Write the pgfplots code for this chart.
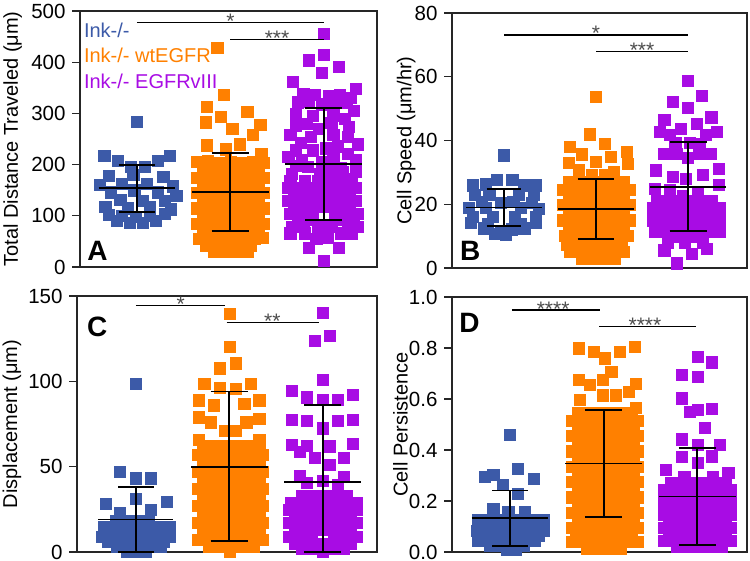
\documentclass[border=0pt]{standalone}
\usepackage{fontspec}
\setmainfont{Liberation Sans}
\usepackage{pgfplots}
\pgfplotsset{compat=1.18}
\definecolor{cblue}{RGB}{60,90,168}
\definecolor{corange}{RGB}{255,128,0}
\definecolor{cpurple}{RGB}{168,12,228}
\pgfplotsset{
 panel/.style={scale only axis, anchor=south west, clip=false, clip mode=individual,
   axis line style={line width=1.3pt, black!85},
   xtick=\empty, ytick pos=left, tick align=outside,
   major tick length=8pt, tick style={line width=1.3pt, black!85},
   yticklabel style={font=\fontsize{20.5}{20.5}\selectfont, xshift=-3pt, inner ysep=0pt, /pgf/number format/assume math mode=true},
   ylabel style={font=\fontsize{20}{24}\selectfont, anchor=center},
 },
 sq/.style={only marks, mark=square*, mark size=5.6pt, color=#1, mark options={line width=0.4pt}, forget plot},
 ebar/.style={black, line width=1.8pt, unbounded coords=jump, forget plot, mark=none},
 sig/.style={black, line width=1.1pt, forget plot, mark=none},
}
\newcommand{\sigstar}[3]{\node[font=\fontsize{21}{21}\selectfont, text=black!70, anchor=base, yshift=-6pt, inner sep=0pt] at (axis cs:#1,#2) {#3};}
\newcommand{\plabel}[3]{\node[anchor=base west, inner sep=0pt, font=\bfseries\fontsize{28}{28}\selectfont] at (axis description cs:#1,#2) {#3};}
\begin{document}
\begin{tikzpicture}
\useasboundingbox (0,0) rectangle (750pt,-561pt);
% ---------------- Panel A
\begin{axis}[panel, at={(80pt,-267pt)}, width=297pt, height=256pt,
  xmin=0.39, xmax=3.57, ymin=0, ymax=500, ytick={0,100,200,300,400,500},
  ylabel={Total Distance Traveled (μm)}, ylabel style={at={(axis description cs:-0.227,0.5)}}]
\addplot[sq=cblue] coordinates {(1,284) (0.65,217) (1.35,217) (0.79,207) (1.22,208) (0.93,196) (1.08,196) (0.70,178) (0.96,180) (1.28,176) (0.60,160) (0.84,163) (1.10,162) (1.38,158) (0.72,146) (0.97,150) (1.22,146) (1.42,140) (0.82,132) (1.06,130) (1.30,130) (0.66,117) (0.90,115) (1.14,118) (1.36,113) (0.70,102) (0.84,100) (0.99,98) (1.14,100) (1.30,104) (0.78,90) (0.92,86) (1.06,86) (1.20,90)};
\addplot[sq=corange] coordinates {(1.86,428) (1.93,336) (1.75,313) (2.18,303) (1.90,293) (1.74,283) (2.32,278) (2.02,270) (2.24,258) (1.75,238) (2.10,240) (1.95,230) (2.33,222)
(1.64,205) (1.76,207) (1.88,204) (2.00,206) (2.12,203) (2.24,206) (2.36,204)
(1.70,190) (1.82,191) (1.94,189) (2.06,190) (2.18,191) (2.30,189)
(1.64,175) (1.76,175) (1.88,175) (2.00,175) (2.12,175) (2.24,175) (2.36,175)
(1.70,160) (1.82,160) (1.94,160) (2.06,160) (2.18,160) (2.30,160)
(1.64,145) (1.76,145) (1.88,145) (2.00,145) (2.12,145) (2.24,145) (2.36,145)
(1.70,130) (1.82,130) (1.94,130) (2.06,130) (2.18,130) (2.30,130)
(1.64,115) (1.76,115) (1.88,115) (2.00,115) (2.12,115) (2.24,115) (2.36,115)
(1.70,100) (1.82,100) (1.94,100) (2.06,100) (2.18,100) (2.30,100)
(1.64,85) (1.76,85) (1.88,85) (2.00,85) (2.12,85) (2.24,85) (2.36,85)
(1.70,70) (1.82,70) (1.94,70) (2.06,70) (2.18,70) (2.30,70)
(1.66,55) (1.78,55) (1.90,55) (2.02,55) (2.14,55) (2.26,55) (2.34,57)
(1.74,42) (1.86,42) (1.98,42) (2.10,42) (2.22,42)
(1.82,30) (1.94,30) (2.06,30) (2.18,30)};
\addplot[sq=cpurple] coordinates {(3.0,455) (3.0,414) (2.84,404) (3.16,391) (2.98,379) (2.67,362) (3.34,349)
(2.78,338) (2.90,336) (3.05,334) (3.17,336) (3.29,330) (2.72,322) (2.84,324) (3.24,322) (2.98,318) (3.10,320)
(2.88,295) (3.10,296) (3.22,290) (2.70,300) (3.32,305) (2.70,277) (2.82,280) (3.27,274) (2.95,270) (3.08,282)
(3.26,254) (3.10,258) (2.64,258) (2.86,255) (3.36,240) (2.75,243) (3.15,236) (2.88,228) (3.02,232) (2.70,228) (3.26,222)
(2.62,216) (2.76,210) (3.34,209) (2.98,205) (3.10,214) (2.83,196) (3.05,195) (3.18,193) (2.70,198)
(2.66,183) (3.20,186) (2.96,183) (3.30,172) (2.80,168) (3.08,170) (2.64,168) (2.94,168) (3.20,166) (3.34,186)
(2.62,155) (2.74,155) (2.86,155) (2.98,155) (3.10,155) (3.22,155) (3.34,155)
(2.68,142) (2.80,142) (2.92,142) (3.04,142) (3.16,142) (3.28,142)
(2.62,130) (2.74,130) (2.86,130) (2.98,130) (3.10,130) (3.22,130) (3.34,130)
(2.68,117) (2.80,117) (2.92,117) (3.04,117) (3.16,117) (3.28,117)
(2.64,104) (2.76,104) (2.88,104) (3.12,104) (3.24,104) (3.36,104)
(2.72,92) (2.85,92) (3.20,92) (3.32,92)
(2.66,78) (2.78,78) (2.94,78) (3.08,78) (3.26,78) (3.36,78)
(2.64,66) (2.80,66) (2.96,66) (3.18,66) (3.30,66)
(2.92,56) (3.04,58) (2.84,37) (3.16,37) (3.0,12)};
\addplot[ebar] coordinates {(0.59,154) (1.41,154) (1,nan) (1,107) (1,199) (1,nan) (0.81,199) (1.19,199) (1,nan) (0.81,107) (1.19,107)};
\addplot[ebar] coordinates {(1.59,146) (2.41,146) (2,nan) (2,71) (2,222) (2,nan) (1.80,222) (2.20,222) (2,nan) (1.80,71) (2.20,71)};
\addplot[ebar] coordinates {(2.59,201) (3.41,201) (3,nan) (3,92) (3,310) (3,nan) (2.80,310) (3.20,310) (3,nan) (2.80,92) (3.20,92)};
\addplot[sig] coordinates {(1,477) (3,477)};
\addplot[sig] coordinates {(2,445) (3,445)};
\sigstar{2}{477}{*}
\sigstar{2.5}{445}{***}
\node[anchor=base west, inner sep=0pt, text=cblue, font=\fontsize{20}{20}\selectfont] at (axis description cs:0.013,0.898) {Ink-/-};
\node[anchor=base west, inner sep=0pt, text=corange, font=\fontsize{20}{20}\selectfont] at (axis description cs:0.013,0.797) {Ink-/- wtEGFR};
\node[anchor=base west, inner sep=0pt, text=cpurple, font=\fontsize{20}{20}\selectfont] at (axis description cs:0.013,0.699) {Ink-/- EGFRvIII};
\plabel{0.024}{0.027}{A}
\end{axis}
% ---------------- Panel B
\begin{axis}[panel, at={(452pt,-268pt)}, width=295pt, height=255pt,
  xmin=0.435, xmax=3.64, ymin=0, ymax=80, ytick={0,20,40,60,80},
  ylabel={Cell Speed (μm/hr)}, ylabel style={at={(axis description cs:-0.155,0.5)}}]
\addplot[sq=cblue] coordinates {(1.0,35.4) (0.92,27.6) (1.09,27.6) (0.66,26) (0.80,26.3) (1.22,26) (1.34,26)
(0.68,23) (0.84,22.9) (1.16,22.9) (1.32,22.9) (0.76,20.8) (0.96,20.5) (1.10,20.8) (1.30,20.6)
(0.62,18.8) (0.80,18.8) (1.18,18.8) (1.38,18.6) (0.66,16.1) (0.88,16.2) (1.12,16.0) (1.34,16.0)
(0.64,14.2) (0.82,14.0) (1.34,14.2) (1.18,14) (0.78,12.5) (0.96,11.8) (1.08,12.2) (1.22,12.5) (0.90,10.8) (1.02,10.6)};
\addplot[sq=corange] coordinates {(2.0,53.7) (1.93,42.0) (2.09,39.1) (1.71,38.1) (2.33,36.5) (1.84,35.7) (2.16,34.9) (2.0,33.4) (1.70,33.0) (2.34,32.8) (1.81,30.9) (2.19,30.2) (1.95,29.2) (2.09,29.2)
(1.70,27) (1.82,27) (1.94,27) (2.06,27) (2.18,27) (2.30,27)
(1.64,24.6) (1.76,24.6) (1.88,24.6) (2.00,24.6) (2.12,24.6) (2.24,24.6) (2.36,24.6)
(1.70,22.2) (1.82,22.2) (1.94,22.2) (2.06,22.2) (2.18,22.2) (2.30,22.2)
(1.64,19.8) (1.76,19.8) (1.88,19.8) (2.00,19.8) (2.12,19.8) (2.24,19.8) (2.36,19.8)
(1.70,17.4) (1.82,17.4) (1.94,17.4) (2.06,17.4) (2.18,17.4) (2.30,17.4)
(1.64,15) (1.76,15) (1.88,15) (2.00,15) (2.12,15) (2.24,15) (2.36,15)
(1.70,12.6) (1.82,12.6) (1.94,12.6) (2.06,12.6) (2.18,12.6) (2.30,12.6)
(1.66,10.2) (1.78,10.2) (1.90,10.2) (2.02,10.2) (2.14,10.2) (2.26,10.2) (2.34,10.2)
(1.68,7.4) (1.80,7.4) (1.92,7.4) (2.04,7.4) (2.16,7.4) (2.28,7.4)
(1.72,5) (1.84,5) (1.96,5) (2.08,5) (2.20,5) (2.30,5)
(1.84,3) (1.96,3) (2.08,3) (2.20,3)};
\addplot[sq=cpurple] coordinates {(3.0,58.8) (2.83,52.2) (3.15,54.1) (3.0,50.4) (2.74,46.6) (3.25,47.3) (3.09,45.3) (2.92,43.8) (2.69,42.8) (3.31,42.8) (2.80,41.8) (3.19,41.8)
(2.86,39.2) (3.02,39.2) (3.12,39.0) (2.74,35.9) (2.88,35.9) (3.12,36.0) (3.24,35.9) (3.00,34.5)
(2.65,30.7) (3.33,31.2) (2.83,28.6) (3.16,29.2) (2.97,28.1) (2.64,24.9) (3.33,26.1) (2.80,24.4) (3.10,24.0) (2.94,22.5)
(2.66,21) (2.78,21) (2.90,21) (3.02,21) (3.14,21) (3.26,21)
(2.62,19) (2.74,19) (2.86,19) (2.98,19) (3.10,19) (3.22,19) (3.34,19)
(2.66,17) (2.78,17) (2.90,17) (3.02,17) (3.14,17) (3.26,17)
(2.62,15) (2.74,15) (2.86,15) (2.98,15) (3.10,15) (3.22,15) (3.34,15)
(2.70,13) (2.82,13) (2.94,13) (3.06,13) (3.18,13) (3.30,13)
(2.64,11.4) (2.76,11.4) (3.22,11.4) (3.34,11.4) (2.88,10) (3.00,10) (3.12,10)
(2.78,8) (2.96,8) (3.16,8) (2.74,5.6) (3.20,6) (3.04,4.6) (2.88,1.5)};
\addplot[ebar] coordinates {(0.59,19) (1.41,19) (1,nan) (1,13.3) (1,24.8) (1,nan) (0.81,24.8) (1.19,24.8) (1,nan) (0.81,13.3) (1.19,13.3)};
\addplot[ebar] coordinates {(1.59,18.5) (2.41,18.5) (2,nan) (2,9) (2,27.8) (2,nan) (1.80,27.8) (2.20,27.8) (2,nan) (1.80,9) (2.20,9)};
\addplot[ebar] coordinates {(2.59,25.5) (3.41,25.5) (3,nan) (3,11.6) (3,39.6) (3,nan) (2.80,39.6) (3.20,39.6) (3,nan) (2.80,11.6) (3.20,11.6)};
\addplot[sig] coordinates {(1,73.1) (3,73.1)};
\addplot[sig] coordinates {(2,67.9) (3,67.9)};
\sigstar{2}{73.1}{*}
\sigstar{2.5}{67.9}{***}
\plabel{0.027}{0.031}{B}
\end{axis}
% ---------------- Panel C
\begin{axis}[panel, at={(77pt,-552pt)}, width=300pt, height=256pt,
  xmin=0.37, xmax=3.58, ymin=0, ymax=150, ytick={0,50,100,150},
  ylabel={Displacement (μm)}, ylabel style={at={(axis description cs:-0.217,0.5)}}]
\addplot[sq=cblue] coordinates {(1.0,98.8) (0.83,47.1) (1.0,43.3) (1.16,43.3) (0.68,28.5) (1.0,31.2) (1.33,29.5) (1.16,25.0) (0.83,22.9)
(0.78,18) (0.90,18) (1.02,18) (1.14,18)
(0.66,15) (0.78,15) (0.90,15) (1.02,15) (1.14,15) (1.26,15) (1.36,15)
(0.70,12) (0.82,12) (0.94,12) (1.06,12) (1.18,12) (1.30,12)
(0.64,9) (0.76,9) (0.88,9) (1.00,9) (1.12,9) (1.24,9) (1.36,9)
(0.70,6) (0.82,6) (0.94,6) (1.06,6) (1.18,6) (1.30,6)
(0.80,3) (0.92,3) (1.04,3) (1.16,3) (1.26,3) (0.90,0.5) (1.00,0.5) (1.10,0.5)};
\addplot[sq=corange] coordinates {(2.0,139.5) (2.0,120.3) (2.07,110.6) (1.90,107.7) (1.73,98.5) (1.90,96.5) (2.23,98.5) (2.07,95.5)
(1.67,89) (2.32,89) (1.83,86) (2.16,87) (1.67,79) (2.32,78) (1.80,76) (2.18,76) (1.95,71) (2.07,71) (1.67,66) (2.32,66)
(1.72,62) (1.84,62) (1.96,62) (2.08,62) (2.20,62) (2.32,62)
(1.66,57) (1.78,57) (1.90,57) (2.02,57) (2.14,57) (2.26,57) (2.36,57)
(1.72,52) (1.84,52) (1.96,52) (2.08,52) (2.20,52) (2.32,52)
(1.66,47) (1.78,47) (1.90,47) (2.02,47) (2.14,47) (2.26,47) (2.36,47)
(1.72,42) (1.84,42) (1.96,42) (2.08,42) (2.20,42) (2.32,42)
(1.66,37) (1.78,37) (1.90,37) (2.02,37) (2.14,37) (2.26,37) (2.36,37)
(1.72,32) (1.84,32) (1.96,32) (2.08,32) (2.20,32) (2.32,32)
(1.66,27) (1.78,27) (1.90,27) (2.02,27) (2.14,27) (2.26,27) (2.36,27)
(1.72,22) (1.84,22) (1.96,22) (2.08,22) (2.20,22) (2.32,22)
(1.66,17) (1.78,17) (1.90,17) (2.02,17) (2.14,17) (2.26,17) (2.36,17)
(1.72,12) (1.84,12) (1.96,12) (2.08,12) (2.20,12) (2.32,12)
(1.66,7) (1.78,7) (1.90,7) (2.02,7) (2.14,7) (2.26,7) (2.36,7)
(1.78,3) (1.90,3) (2.02,3) (2.14,3) (2.26,3) (2.0,0.5)};
\addplot[sq=cpurple] coordinates {(3.0,140.2) (2.91,123.9) (3.07,126.6) (3.0,100.8) (2.67,94.6) (3.32,92.0) (2.83,90.7) (3.0,89.2) (3.16,89.2)
(2.67,77.3) (2.83,76.8) (3.16,76.8) (3.32,77.5) (3.0,72.5) (2.67,63) (2.83,62.5) (3.07,62) (3.32,63.5)
(2.75,58.8) (2.91,55.1) (3.22,55.4) (3.07,51.0) (2.75,44.7) (3.22,44) (2.83,40.5) (3.0,42) (3.16,39.5)
(2.78,33) (2.90,33) (3.02,33) (3.14,33) (3.26,33)
(2.66,29) (2.78,29) (2.90,29) (3.02,29) (3.14,29) (3.26,29) (3.36,29)
(2.64,25) (2.76,25) (2.88,25) (3.00,25) (3.12,25) (3.24,25) (3.36,25)
(2.70,21) (2.82,21) (2.94,21) (3.06,21) (3.18,21) (3.30,21)
(2.64,17) (2.76,17) (2.88,17) (3.00,17) (3.12,17) (3.24,17) (3.36,17)
(2.70,13) (2.82,13) (2.94,13) (3.06,13) (3.18,13) (3.30,13)
(2.64,9) (2.76,9) (2.88,9) (3.12,9) (3.24,9) (3.36,9)
(2.70,5) (2.82,5) (2.94,5) (3.06,5) (3.18,5) (3.30,5)
(2.78,2) (2.90,2) (3.10,2) (3.22,2) (3.0,0.5)};
\addplot[ebar] coordinates {(0.60,19) (1.40,19) (1,nan) (1,0) (1,38.3) (1,nan) (0.81,38.3) (1.19,38.3) (1,nan) (0.81,0) (1.19,0)};
\addplot[ebar] coordinates {(1.59,50) (2.41,50) (2,nan) (2,6.4) (2,94) (2,nan) (1.80,94) (2.20,94) (2,nan) (1.80,6.4) (2.20,6.4)};
\addplot[ebar] coordinates {(2.59,41) (3.41,41) (3,nan) (3,0) (3,86) (3,nan) (2.80,86) (3.20,86) (3,nan) (2.80,0) (3.20,0)};
\addplot[sig] coordinates {(1,144.3) (1.95,144.3)};
\addplot[sig] coordinates {(1.97,134.6) (2.96,134.6)};
\sigstar{1.48}{144.3}{*}
\sigstar{2.46}{134.6}{**}
\plabel{0.033}{0.84}{C}
\end{axis}
% ---------------- Panel D
\begin{axis}[panel, at={(452pt,-552pt)}, width=295pt, height=255pt,
  xmin=0.38, xmax=3.53, ymin=0, ymax=1, ytick={0,0.2,0.4,0.6,0.8,1.0},
  yticklabel style={/pgf/number format/.cd, fixed, fixed zerofill, precision=1},
  ylabel={Cell Persistence}, ylabel style={at={(axis description cs:-0.175,0.5)}}]
\addplot[sq=cblue] coordinates {(1.0,0.461) (1.08,0.328) (0.73,0.294) (0.82,0.302) (1.25,0.289) (0.92,0.263) (1.08,0.230) (0.82,0.171) (0.98,0.158) (1.16,0.158)
(0.66,0.125) (0.78,0.125) (0.90,0.125) (1.02,0.125) (1.14,0.125) (1.26,0.125) (1.36,0.125)
(0.70,0.105) (0.82,0.105) (0.94,0.105) (1.06,0.105) (1.18,0.105) (1.30,0.105)
(0.64,0.085) (0.76,0.085) (0.88,0.085) (1.00,0.085) (1.12,0.085) (1.24,0.085) (1.36,0.085)
(0.70,0.065) (0.82,0.065) (0.94,0.065) (1.06,0.065) (1.18,0.065) (1.30,0.065)
(0.66,0.045) (0.78,0.045) (0.90,0.045) (1.02,0.045) (1.14,0.045) (1.26,0.045)
(0.78,0.025) (0.90,0.025) (1.02,0.025) (1.14,0.025) (0.96,0.008) (1.06,0.008)};
\addplot[sq=corange] coordinates {(1.73,0.799) (1.89,0.786) (2.01,0.76) (2.17,0.786) (2.33,0.805) (2.08,0.707) (1.73,0.675) (1.85,0.655) (1.99,0.675) (2.34,0.66) (1.99,0.615) (2.13,0.615) (2.27,0.628) (1.74,0.597) (2.34,0.565)
(1.72,0.545) (1.84,0.545) (1.96,0.545) (2.08,0.545) (2.20,0.545) (2.30,0.545)
(1.66,0.515) (1.78,0.515) (1.90,0.515) (2.02,0.515) (2.14,0.515) (2.26,0.515) (2.36,0.515)
(1.72,0.485) (1.84,0.485) (1.96,0.485) (2.08,0.485) (2.20,0.485) (2.32,0.485)
(1.66,0.455) (1.78,0.455) (1.90,0.455) (2.02,0.455) (2.14,0.455) (2.26,0.455) (2.36,0.455)
(1.72,0.425) (1.84,0.425) (1.96,0.425) (2.08,0.425) (2.20,0.425) (2.32,0.425)
(1.66,0.395) (1.78,0.395) (1.90,0.395) (2.02,0.395) (2.14,0.395) (2.26,0.395) (2.36,0.395)
(1.72,0.365) (1.84,0.365) (1.96,0.365) (2.08,0.365) (2.20,0.365) (2.32,0.365)
(1.66,0.335) (1.78,0.335) (1.90,0.335) (2.02,0.335) (2.14,0.335) (2.26,0.335) (2.36,0.335)
(1.72,0.305) (1.84,0.305) (1.96,0.305) (2.08,0.305) (2.20,0.305) (2.32,0.305)
(1.66,0.275) (1.78,0.275) (1.90,0.275) (2.02,0.275) (2.14,0.275) (2.26,0.275) (2.36,0.275)
(1.72,0.245) (1.84,0.245) (1.96,0.245) (2.08,0.245) (2.20,0.245) (2.32,0.245)
(1.66,0.215) (1.78,0.215) (1.90,0.215) (2.02,0.215) (2.14,0.215) (2.26,0.215) (2.36,0.215)
(1.72,0.185) (1.84,0.185) (1.96,0.185) (2.08,0.185) (2.20,0.185) (2.32,0.185)
(1.66,0.155) (1.78,0.155) (1.90,0.155) (2.02,0.155) (2.14,0.155) (2.26,0.155) (2.36,0.155)
(1.72,0.125) (1.84,0.125) (1.96,0.125) (2.08,0.125) (2.20,0.125) (2.32,0.125)
(1.66,0.095) (1.78,0.095) (1.90,0.095) (2.02,0.095) (2.14,0.095) (2.26,0.095) (2.36,0.095)
(1.70,0.065) (1.82,0.065) (1.94,0.065) (2.06,0.065) (2.18,0.065) (2.30,0.065)
(1.66,0.040) (1.78,0.040) (1.90,0.040) (2.02,0.040) (2.14,0.040) (2.26,0.040) (2.36,0.040)
(1.82,0.015) (1.94,0.015) (2.06,0.015) (2.18,0.015)};
\addplot[sq=cpurple] coordinates {(3.0,0.766) (3.15,0.744) (2.83,0.694) (3.0,0.687) (2.83,0.603) (2.92,0.55) (3.0,0.557) (3.15,0.561) (3.08,0.489) (2.83,0.442) (3.0,0.42) (3.24,0.42) (2.83,0.374) (3.15,0.376) (3.0,0.35) (2.66,0.322) (3.33,0.311) (2.86,0.295) (3.16,0.295)
(2.72,0.270) (2.84,0.270) (2.96,0.270) (3.08,0.270) (3.20,0.270) (3.30,0.270)
(2.64,0.245) (2.76,0.245) (2.88,0.245) (3.00,0.245) (3.12,0.245) (3.24,0.245) (3.36,0.245)
(2.70,0.220) (2.82,0.220) (2.94,0.220) (3.06,0.220) (3.18,0.220) (3.30,0.220)
(2.64,0.195) (2.76,0.195) (2.88,0.195) (3.00,0.195) (3.12,0.195) (3.24,0.195) (3.36,0.195)
(2.70,0.170) (2.82,0.170) (2.94,0.170) (3.06,0.170) (3.18,0.170) (3.30,0.170)
(2.64,0.145) (2.76,0.145) (2.88,0.145) (3.00,0.145) (3.12,0.145) (3.24,0.145) (3.36,0.145)
(2.70,0.120) (2.82,0.120) (2.94,0.120) (3.06,0.120) (3.18,0.120) (3.30,0.120)
(2.64,0.095) (2.76,0.095) (2.88,0.095) (3.12,0.095) (3.24,0.095) (3.36,0.095)
(2.70,0.070) (2.82,0.070) (2.94,0.070) (3.06,0.070) (3.18,0.070) (3.30,0.070)
(2.64,0.045) (2.76,0.045) (2.88,0.045) (3.00,0.045) (3.12,0.045) (3.24,0.045) (3.36,0.045)
(2.78,0.020) (2.90,0.020) (3.02,0.020) (3.14,0.020) (3.26,0.020)};
\addplot[ebar] coordinates {(0.59,0.133) (1.41,0.133) (1,nan) (1,0.022) (1,0.241) (1,nan) (0.81,0.241) (1.19,0.241) (1,nan) (0.81,0.022) (1.19,0.022)};
\addplot[ebar] coordinates {(1.59,0.347) (2.41,0.347) (2,nan) (2,0.136) (2,0.557) (2,nan) (1.80,0.557) (2.20,0.557) (2,nan) (1.80,0.136) (2.20,0.136)};
\addplot[ebar] coordinates {(2.59,0.218) (3.41,0.218) (3,nan) (3,0.027) (3,0.407) (3,nan) (2.80,0.407) (3.20,0.407) (3,nan) (2.80,0.027) (3.20,0.027)};
\addplot[sig] coordinates {(1.02,0.949) (1.96,0.949)};
\addplot[sig] coordinates {(1.95,0.884) (2.99,0.884)};
\sigstar{1.46}{0.949}{****}
\sigstar{2.44}{0.884}{****}
\plabel{0.024}{0.859}{D}
\end{axis}
\end{tikzpicture}
\end{document}
